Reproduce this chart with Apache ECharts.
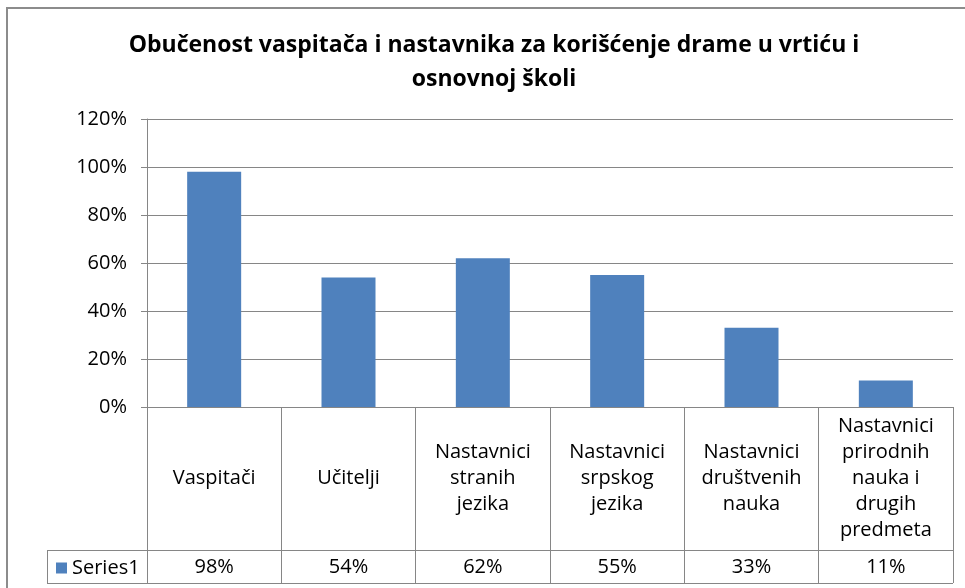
<!DOCTYPE html>
<html>
<head>
<meta charset="utf-8">
<script src="https://cdn.jsdelivr.net/npm/echarts@6/dist/echarts.min.js"></script>
<style>
  html, body { margin: 0; padding: 0; background: #fff; }
  #chart { width: 965px; height: 588px; }
</style>
</head>
<body>
<div id="chart"></div>
<script>
const titleText = 'Obučenost vaspitača i nastavnika za korišćenje drame u vrtiću i\nosnovnoj školi'
const categories = [
  'Vaspitači',
  'Učitelji',
  'Nastavnici\nstranih\njezika',
  'Nastavnici\nsrpskog\njezika',
  'Nastavnici\ndruštvenih\nnauka',
  'Nastavnici\nprirodnih\nnauka i\ndrugih\npredmeta'
]
const seriesName = 'Series1'
const values = [0.98, 0.54, 0.62, 0.55, 0.33, 0.11]

const pct = v => Math.round(v * 100) + '%'
const gridColor = '#868686'
const font = 'Open Sans'
const labelSize = 20

const chart = echarts.init(document.getElementById('chart'))

chart.setOption({
  animation: false,
  textStyle: { fontFamily: font, color: '#000' },
  title: {
    text: titleText,
    left: 489,
    top: 23,
    textAlign: 'center',
    textStyle: { fontFamily: font, fontSize: 23, fontWeight: 'bold', lineHeight: 34, color: '#000' }
  },
  legend: {
    data: [seriesName],
    left: 56,
    top: 558,
    padding: 0,
    icon: 'rect',
    itemWidth: 11,
    itemHeight: 11,
    itemGap: 0,
    textStyle: { fontSize: labelSize, color: '#000', padding: [0, 0, 0, 0] }
  },
  grid: { left: 147, right: 12, top: 119, bottom: 181, containLabel: false },
  xAxis: [
    {
      type: 'category',
      data: categories,
      position: 'bottom',
      axisLine: { show: true, lineStyle: { color: gridColor, width: 1 } },
      axisTick: { show: true, length: 176, lineStyle: { color: gridColor } },
      axisLabel: {
        interval: 0,
        margin: 71,
        verticalAlign: 'middle',
        fontSize: labelSize,
        lineHeight: 26,
        color: '#000'
      },
      splitLine: { show: false }
    },
    {
      type: 'category',
      data: values.map(pct),
      position: 'bottom',
      axisLine: { show: false },
      axisTick: { show: false },
      axisLabel: { interval: 0, margin: 160, verticalAlign: 'middle', fontSize: labelSize, color: '#000' },
      splitLine: { show: false }
    }
  ],
  yAxis: {
    type: 'value',
    min: 0,
    max: 1.2,
    interval: 0.2,
    axisLine: { show: true, lineStyle: { color: gridColor } },
    axisTick: { show: true, length: 6, lineStyle: { color: gridColor } },
    axisLabel: { formatter: pct, fontSize: labelSize, margin: 20, color: '#000' },
    splitLine: { show: true, lineStyle: { color: gridColor, width: 1 } }
  },
  series: [{
    name: seriesName,
    type: 'bar',
    xAxisIndex: 0,
    data: values,
    barWidth: 54,
    itemStyle: { color: '#4F81BD' }
  }],
  graphic: [
    // outer chart frame
    { type: 'rect', silent: true, shape: { x: 7, y: 8, width: 1000, height: 700 },
      style: { fill: 'none', stroke: '#8c8c8c', lineWidth: 2 } },
    // data table borders
    { type: 'line', silent: true, shape: { x1: 47, y1: 550.5, x2: 953, y2: 550.5 },
      style: { stroke: gridColor, lineWidth: 1 } },
    { type: 'line', silent: true, shape: { x1: 47, y1: 583.5, x2: 953, y2: 583.5 },
      style: { stroke: gridColor, lineWidth: 1 } },
    { type: 'line', silent: true, shape: { x1: 47.5, y1: 550, x2: 47.5, y2: 584 },
      style: { stroke: gridColor, lineWidth: 1 } }
  ]
})
</script>
</body>
</html>
